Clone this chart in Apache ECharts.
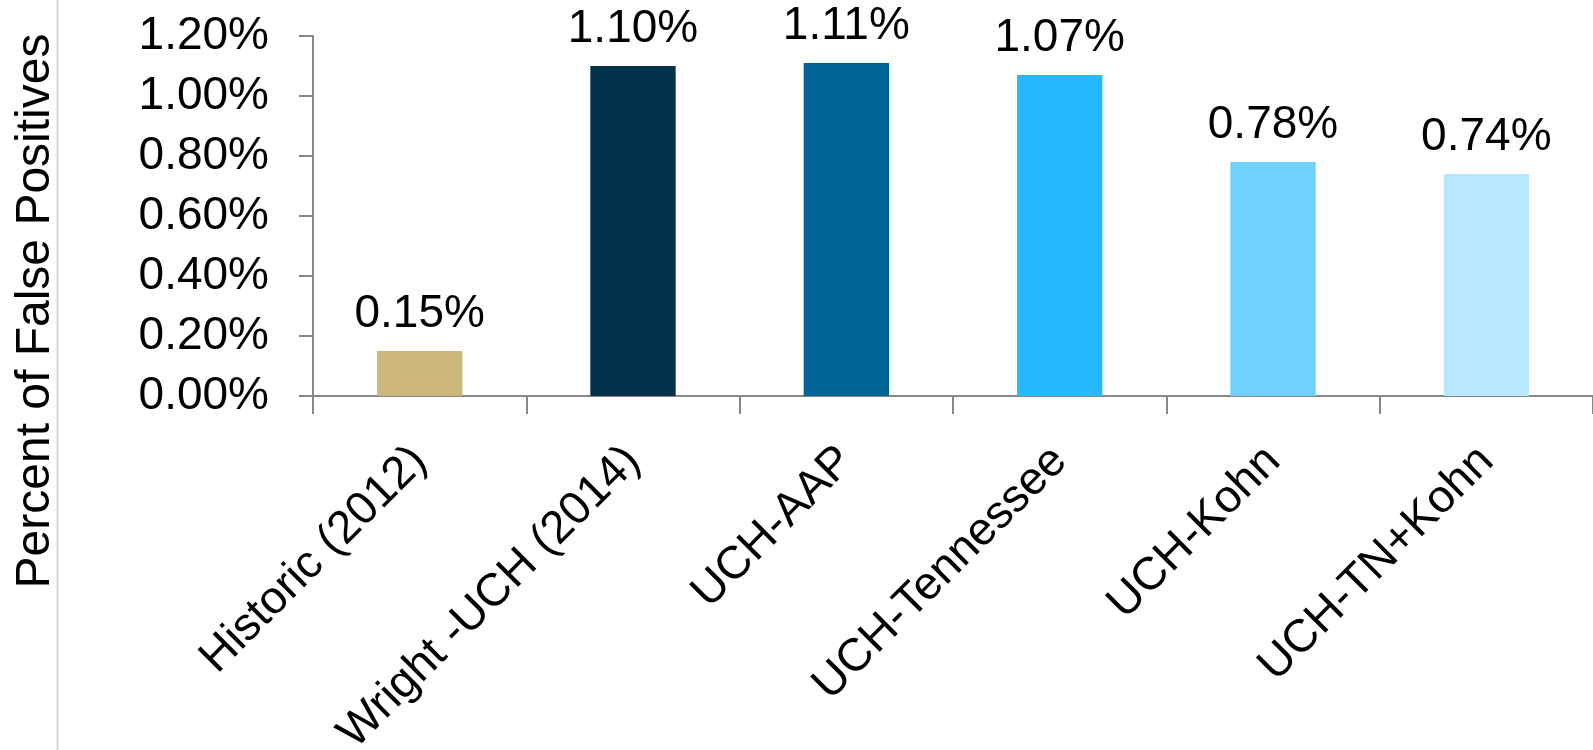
<!DOCTYPE html>
<html>
<head>
<meta charset="utf-8">
<script src="https://cdn.jsdelivr.net/npm/echarts@6/dist/echarts.min.js"></script>
<style>
  html, body { margin: 0; padding: 0; background: #fff; }
  #chart { width: 1593px; height: 750px; }
</style>
</head>
<body>
<div id="chart"></div>
<script>
const categories = ['Historic (2012)', 'Wright -UCH (2014)', 'UCH-AAP', 'UCH-Tennessee', 'UCH-Kohn', 'UCH-TN+Kohn']
const falsePositives = [0.15, 1.10, 1.11, 1.07, 0.78, 0.74]
const barColors = ['#CDB87B', '#023249', '#006494', '#26B9FF', '#70D0FF', '#B8E7FF']
const yTicks = [0, 0.2, 0.4, 0.6, 0.8, 1.0, 1.2]

const font = '"Liberation Sans", Arial, sans-serif'
const axisGrey = '#878787'

const chart = echarts.init(document.getElementById('chart'))
chart.setOption({
  animation: false,
  textStyle: { fontFamily: font },
  grid: { left: 313, right: 0, top: 36, bottom: 354, containLabel: false, outerBoundsMode: 'none' },
  graphic: [{
    type: 'line',
    shape: { x1: 57.5, y1: 0, x2: 57.5, y2: 750 },
    style: { stroke: '#d6d6d6', lineWidth: 2 }
  }],
  xAxis: {
    type: 'category',
    data: categories,
    axisLine: { lineStyle: { color: axisGrey, width: 2 } },
    axisTick: { show: true, interval: 0, alignWithLabel: false, length: 18, lineStyle: { color: axisGrey, width: 2 } },
    axisLabel: {
      rotate: 45,
      margin: 58,
      interval: 0,
      color: '#000',
      fontSize: 46,
      fontFamily: font
    }
  },
  yAxis: {
    type: 'value',
    min: 0,
    max: yTicks[yTicks.length - 1],
    interval: 0.2,
    name: 'Percent of False Positives',
    nameLocation: 'middle',
    nameGap: 253,
    nameTextStyle: { color: '#000', fontSize: 48, fontFamily: font, padding: [0, 190, 0, 0] },
    axisLine: { show: true, lineStyle: { color: axisGrey, width: 2 } },
    axisTick: { show: true, length: 14, lineStyle: { color: axisGrey, width: 2 } },
    splitLine: { show: false },
    axisLabel: {
      margin: 44,
      color: '#000',
      fontSize: 46,
      fontFamily: font,
      formatter: (v) => v.toFixed(2) + '%'
    }
  },
  series: [{
    type: 'bar',
    barWidth: '40%',
    data: falsePositives.map((v, i) => ({ value: v, itemStyle: { color: barColors[i] } })),
    label: {
      show: true,
      position: 'top',
      distance: 14,
      color: '#000',
      fontSize: 46,
      fontFamily: font,
      formatter: (p) => p.value.toFixed(2) + '%'
    }
  }]
})
</script>
</body>
</html>
